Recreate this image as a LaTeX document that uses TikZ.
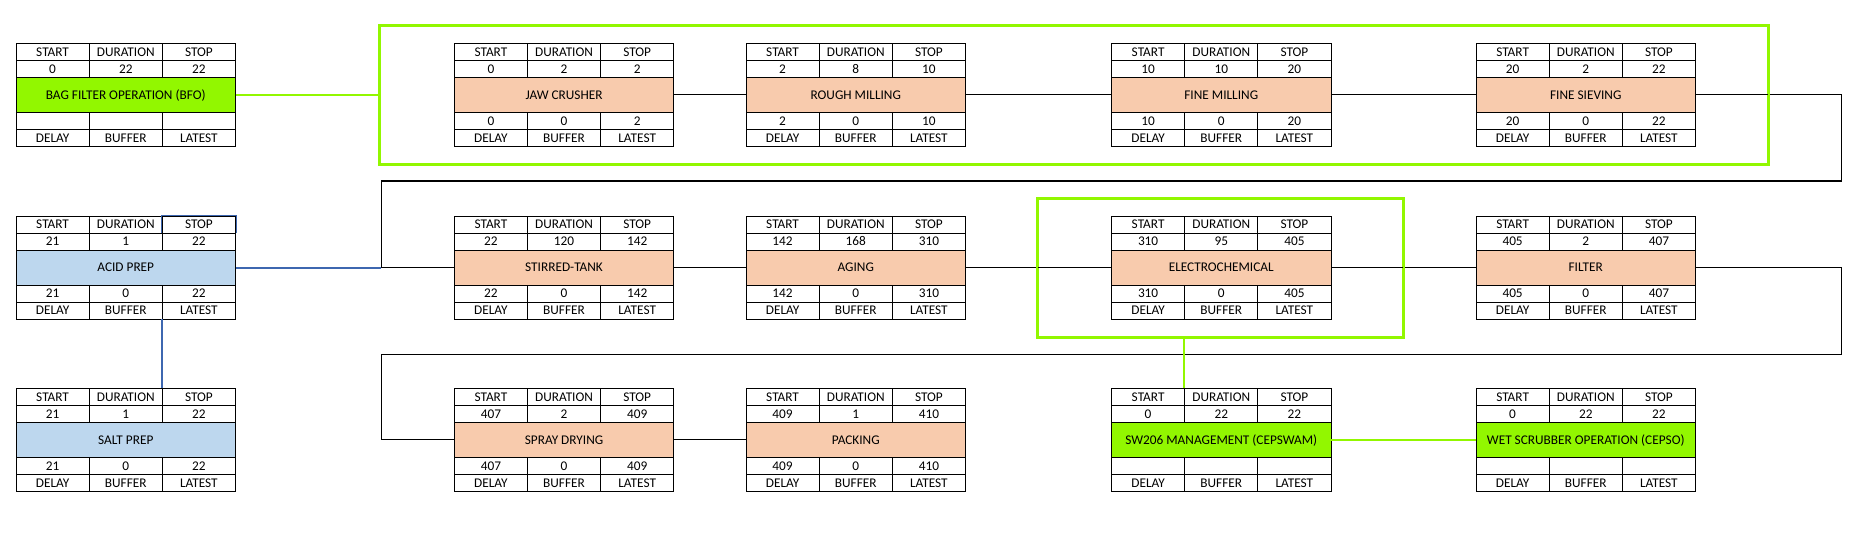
\documentclass[tikz,border=0pt]{standalone}
\usepackage{fontspec}
\setmainfont{Carlito}
\usetikzlibrary{calc}
\definecolor{lime}{RGB}{146,247,0}
\definecolor{peach}{RGB}{248,203,173}
\definecolor{lblue}{RGB}{189,215,238}
\definecolor{dblue}{RGB}{62,103,176}
\tikzset{
 tablebox/.style={draw=black, line width=0.9pt, minimum width=219.5pt, minimum height=103pt, inner sep=0pt, font=\fontsize{13.3}{13.3}\selectfont, text height=8.6pt, text depth=0pt},
 gridline/.style={black, line width=0.9pt},
 cell/.style={inner sep=0pt, font=\fontsize{13.3}{13.3}\selectfont, text height=8.6pt, text depth=0pt},
 link/.style={black, line width=1.2pt},
 glink/.style={lime, line width=2.4pt},
 blink/.style={dblue, line width=2pt},
 greenframe/.style={draw=lime, line width=2pt, inner sep=0pt},
}
\def\splitvals#1,#2,#3,#4,#5,#6\relax{\def\vA{#1}\def\vB{#2}\def\vC{#3}\def\vD{#4}\def\vE{#5}\def\vF{#6}}
\newcommand\tasktable[6]{%
 \splitvals#6\relax
 \begin{scope}[shift={(#2,#3)}]
  \fill[#4] (0,34) rectangle (219.5,69);
  \draw[gridline] (0,17) -- (219.5,17) (0,34) -- (219.5,34) (0,69) -- (219.5,69) (0,86) -- (219.5,86)
     (73.17,0) -- (73.17,34) (146.33,0) -- (146.33,34) (73.17,69) -- (73.17,103) (146.33,69) -- (146.33,103);
  \node[tablebox] (#1) at (109.75,51.5) {#5};
  \node[cell] at (36.6,8.5) {START};
  \node[cell] at (109.75,8.5) {DURATION};
  \node[cell] at (182.9,8.5) {STOP};
  \node[cell] at (36.6,25.5) {\vA};
  \node[cell] at (109.75,25.5) {\vB};
  \node[cell] at (182.9,25.5) {\vC};
  \node[cell] at (36.6,77.5) {\vD};
  \node[cell] at (109.75,77.5) {\vE};
  \node[cell] at (182.9,77.5) {\vF};
  \node[cell] at (36.6,94.5) {DELAY};
  \node[cell] at (109.75,94.5) {BUFFER};
  \node[cell] at (182.9,94.5) {LATEST};
 \end{scope}}
\begin{document}
\begin{tikzpicture}[x=1pt,y=-1pt]
\useasboundingbox (0,0) rectangle (1858,550);
% row 1
\tasktable{bfo}{16}{43.3}{lime}{BAG FILTER OPERATION (BFO)}{0,22,22,,,}
\tasktable{jaw}{454.3}{43.3}{peach}{JAW CRUSHER}{0,2,2,0,0,2}
\tasktable{rough}{746}{43.3}{peach}{ROUGH MILLING}{2,8,10,2,0,10}
\tasktable{finemill}{1111.5}{43.3}{peach}{FINE MILLING}{10,10,20,10,0,20}
\tasktable{sieve}{1476}{43.3}{peach}{FINE SIEVING}{20,2,22,20,0,22}
% row 2
\tasktable{acid}{16}{216}{lblue}{ACID PREP}{21,1,22,21,0,22}
\tasktable{stirred}{454.3}{216}{peach}{STIRRED-TANK}{22,120,142,22,0,142}
\tasktable{aging}{746}{216}{peach}{AGING}{142,168,310,142,0,310}
\tasktable{electro}{1111.5}{216}{peach}{ELECTROCHEMICAL}{310,95,405,310,0,405}
\tasktable{filter}{1476}{216}{peach}{FILTER}{405,2,407,405,0,407}
% row 3
\tasktable{salt}{16}{388.3}{lblue}{SALT PREP}{21,1,22,21,0,22}
\tasktable{spray}{454.3}{388.3}{peach}{SPRAY DRYING}{407,2,409,407,0,409}
\tasktable{packing}{746}{388.3}{peach}{PACKING}{409,1,410,409,0,410}
\tasktable{sw}{1111.5}{388.3}{lime}{SW206 MANAGEMENT (CEPSWAM)}{0,22,22,,,}
\tasktable{wet}{1476}{388.3}{lime}{WET SCRUBBER OPERATION (CEPSO)}{0,22,22,,,}
% blue border of the STOP cell of ACID PREP
\draw[dblue, line width=0.9pt] ($(acid.north west)+(146.33,17)$) -- ($(acid.north west)+(146.33,0)$) -- (acid.north east) -- ($(acid.north east)+(0,17)$);
% coordinates
\coordinate (r1) at (1841.3,181);
\coordinate (l1) at (381.3,181);
\coordinate (r2) at (1841.3,354.3);
\coordinate (l2) at (381.3,354.3);
\coordinate (j1) at (381.3,267.5);
\coordinate (acidb) at ($(acid.south west)+(146.33,0)$);
\coordinate (saltt) at ($(salt.north west)+(146.33,0)$);
\coordinate (swt) at ($(sw.north west)+(73.17,0)$);
% frames
\node[greenframe, minimum width=1388pt, minimum height=138pt] (frameA) at (1074,94.7) {};
\node[greenframe, minimum width=365.6pt, minimum height=137.7pt] (frameB) at (1220.5,267.85) {};
% black links
\draw[link] (jaw.east) -- (rough.west);
\draw[link] (rough.east) -- (finemill.west);
\draw[link] (finemill.east) -- (sieve.west);
\draw[link] (sieve.east) -| (r1) -- (l1) |- (stirred.west);
\draw[link] (stirred.east) -- (aging.west);
\draw[link] (aging.east) -- (electro.west);
\draw[link] (electro.east) -- (filter.west);
\draw[link] (filter.east) -| (r2) -- (l2) |- (spray.west);
\draw[link] (spray.east) -- (packing.west);
% blue links
\draw[blink] (acid.east) -- (j1);
\draw[blink] (acidb) -- (saltt);
% green links
\draw[glink] (bfo.east) -- (bfo.east -| frameA.west);
\draw[glink] (sw.east) -- (wet.west);
\draw[glink] (swt |- frameB.south) -- (swt);
% redraw frames on top
\draw[lime, line width=2pt] (frameA.north west) rectangle (frameA.south east);
\draw[lime, line width=2pt] (frameB.north west) rectangle (frameB.south east);
\end{tikzpicture}
\end{document}
